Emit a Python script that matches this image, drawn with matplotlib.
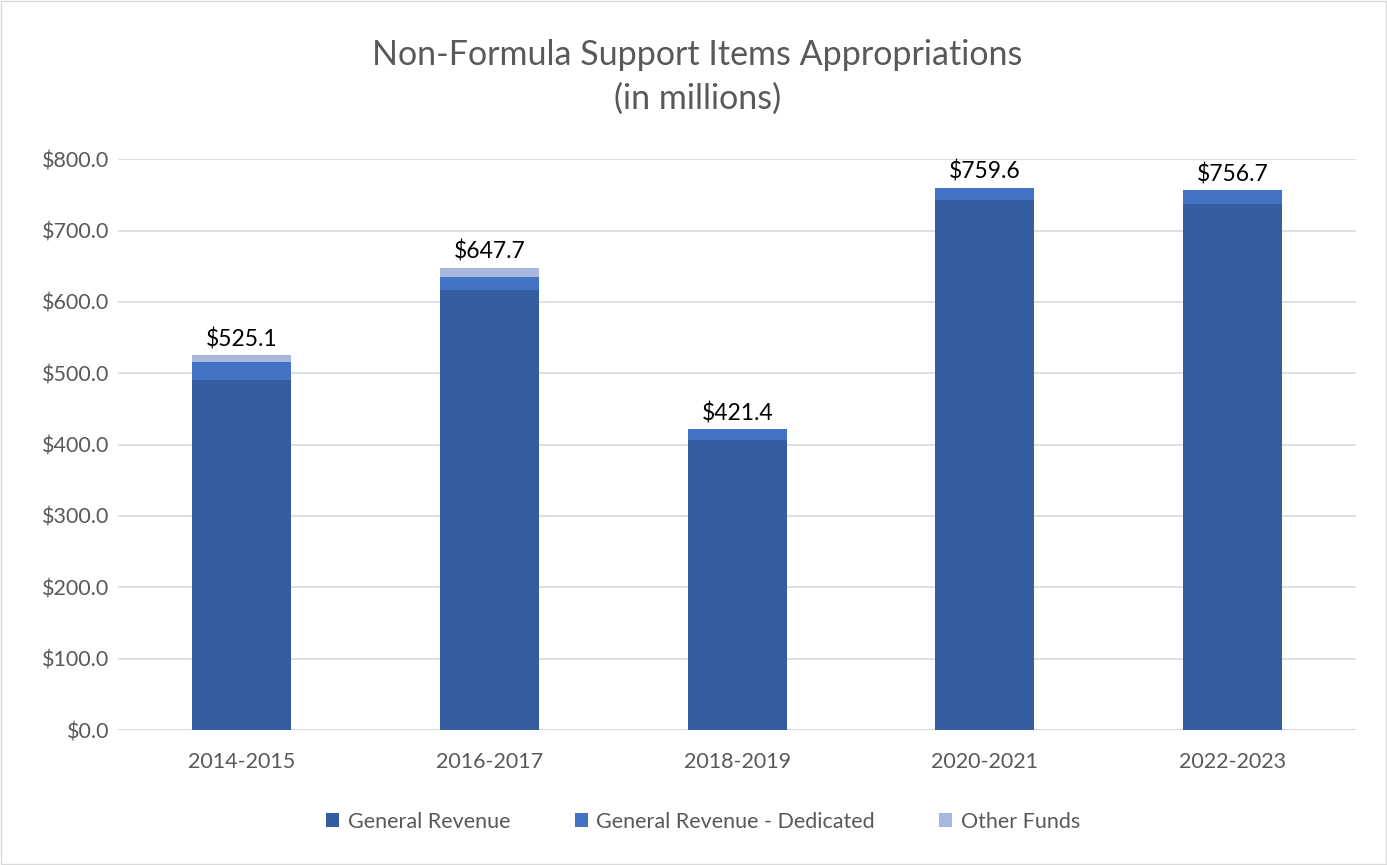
import matplotlib.pyplot as plt
import numpy as np

# data (in millions)
years = ["2014-2015", "2016-2017", "2018-2019", "2020-2021", "2022-2023"]
general_revenue = [490.7, 616.6, 406.7, 742.5, 737.8]
gr_dedicated = [25.2, 18.2, 14.7, 17.1, 18.9]
other_funds = [9.2, 12.9, 0.0, 0.0, 0.0]
totals = [525.1, 647.7, 421.4, 759.6, 756.7]

plt.rcParams['font.family'] = ['Lato', 'DejaVu Sans']

fig = plt.figure(figsize=(13.87, 8.65), dpi=100)
ax = fig.add_axes([0.085, 0.156, 0.893, 0.66])

x = np.arange(len(years))
w = 0.4
gr = np.array(general_revenue)
grd = np.array(gr_dedicated)
of = np.array(other_funds)

ax.bar(x, gr, w, color='#345DA2', label='General Revenue', zorder=3)
ax.bar(x, grd, w, bottom=gr, color='#4472C4', label='General Revenue - Dedicated', zorder=3)
ax.bar(x, of, w, bottom=gr + grd, color='#A7B7DE', label='Other Funds', zorder=3)

for xi, t in zip(x, totals):
    ax.text(xi, t + 7, f"${t:.1f}", ha='center', va='bottom', fontsize=16.5, color='#000000')

ax.set_ylim(0, 800)
ax.set_xlim(-0.5, len(years) - 0.5)
ax.set_yticks(np.arange(0, 801, 100))
ax.set_yticklabels([f"${v:.1f}" for v in np.arange(0, 801, 100)])
ax.set_xticks(x)
ax.set_xticklabels(years)
ax.tick_params(axis='both', length=0, labelsize=15.5, colors='#595959')
ax.tick_params(axis='x', pad=16)
ax.tick_params(axis='y', pad=6)
ax.yaxis.grid(True, color='#D9D9D9', linewidth=1.2, zorder=0)
for s in ax.spines.values():
    s.set_visible(False)
ax.axhline(0, color='#D9D9D9', linewidth=1.2, zorder=1)

fig.text(0.503, 0.911, "Non-Formula Support Items Appropriations\n(in millions)",
         ha='center', va='center', fontsize=24.5, color='#595959', linespacing=1.45)

fig.legend(*ax.get_legend_handles_labels(), loc='center', bbox_to_anchor=(0.507, 0.05),
           ncol=3, frameon=False, fontsize=15.5, labelcolor='#595959',
           handlelength=0.6, handleheight=0.6, columnspacing=3.0, handletextpad=0.4)

# light border around figure
fig.patches.append(plt.Rectangle((0.001, 0.001), 0.998, 0.998, transform=fig.transFigure,
                                 fill=False, edgecolor='#D9D9D9', linewidth=1))

fig.savefig("out.png", dpi=100)
